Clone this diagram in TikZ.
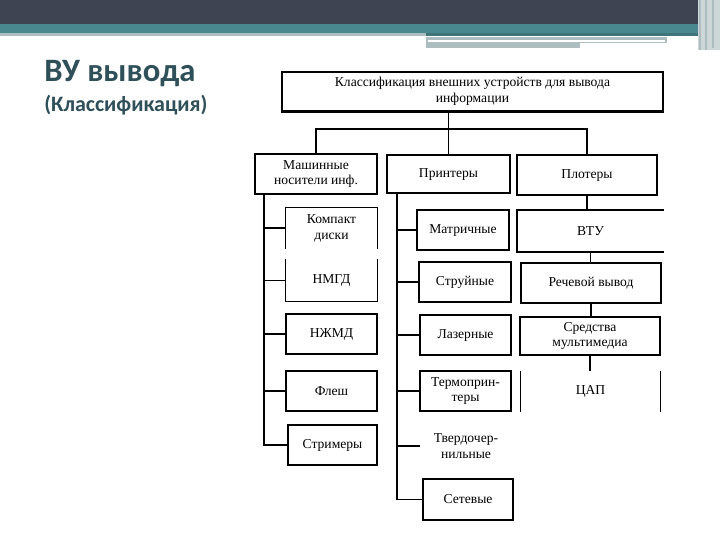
\documentclass[tikz,border=0pt]{standalone}
\usepackage{fontspec}
\setmainfont{Liberation Serif}
\newfontfamily\slidefont{Carlito}

\definecolor{slidedark}{HTML}{3F4452}
\definecolor{slideteal}{HTML}{4A8890}
\definecolor{slidegray}{HTML}{AEBDBF}
\definecolor{titleteal}{HTML}{2F5059}

\tikzset{
  cell/.style={draw, line width=1pt, inner sep=0pt, align=center, font=\fontsize{10.2}{11.8}\selectfont},
  cellopen/.style={cell, draw=none},
  sz/.style 2 args={minimum width=#1*0.75pt, minimum height=#2*0.75pt},
  link/.style={line width=1pt},
  linkthick/.style={line width=1.6pt}
}

\begin{document}
\begin{tikzpicture}[x=0.75pt, y=-0.75pt]
    \useasboundingbox (0,0) rectangle (720,540);
    % slide header
    \fill[white] (0,0) rectangle (720,540);
    \fill[slidedark] (0,0) rectangle (720,24);
    \fill[slideteal] (0,24) rectangle (720,33);
    \fill[slidegray] (0,33) rectangle (426,36);
    \fill[slideteal!85!black] (426,33) rectangle (698,36);
    \fill[slidegray] (426,37) rectangle (667,43);
    \fill[slidegray] (426,43) rectangle (580,48);
    \fill[white] (428,39.5) rectangle (665,41.5);
    \fill[slidegray!60] (698,0) rectangle (720,50);
    \draw[slidegray, line width=1pt] (700,0) -- (700,50) (706,0) -- (706,50) (713,0) -- (713,48);

    % title
    \node[anchor=base west, inner sep=0pt, text=titleteal, font=\slidefont\bfseries\fontsize{24.5}{28}\selectfont] (title) at (44,81) {ВУ вывода};
    \node[anchor=base west, inner sep=0pt, text=titleteal, font=\slidefont\bfseries\fontsize{16.5}{20}\selectfont] (subtitle) at (44,111) {(Классификация)};

    % root and groups
    \node[cell, sz={381}{39}] (root) at (472.5,91.5) {Классификация внешних устройств для вывода\hspace{2em}\\информации\hspace{2em}};
    \draw[line width=1.8pt] (root.south west) -- (root.south east);
    \node[cell, sz={122}{40}, line width=1.4pt] (carriers) at (316,174) {Машинные\\носители инф.};
    \node[cell, sz={123}{38}, line width=1.2pt] (printers) at (448.5,174) {Принтеры};
    \node[cell, sz={140}{40}] (plotters) at (587,175) {Плотеры};
    \coordinate (bar) at (450,129);
    \draw[linkthick] (carriers.north) |- (bar) -| (plotters.north);
    \draw[link] (printers.north |- root.south) -- (printers.north);

    % carriers
    \node[cellopen, sz={91}{40}] (cd) at (331.5,228) {Компакт\\диски};
    \draw[link] (cd.south west) -- (cd.north west) -- (cd.north east) -- (cd.south east);
    \node[cellopen, sz={91}{41}] (nmgd) at (331.5,280.5) {НМГД};
    \draw[link] (nmgd.north west) -- (nmgd.south west) -- (nmgd.south east) -- (nmgd.north east);
    \node[cell, sz={91}{40}] (nzhmd) at (331.5,334) {НЖМД};
    \node[cell, sz={91}{40}, line width=1.5pt] (flash) at (331.5,391) {Флеш};
    \node[cell, sz={89}{40}] (streamer) at (332.5,445) {Стримеры};
    \coordinate (spine1) at (264,194);
    \draw[link] (spine1) |- (streamer.west);
    \foreach \n in {cd,nmgd,nzhmd,flash}
        \draw[link] (spine1 |- \n.west) -- (\n.west);

    % printers
    \node[cell, sz={92}{40}, line width=1.4pt] (dotmatrix) at (463,230) {Матричные};
    \node[cell, sz={92}{40}] (inkjet) at (465,282) {Струйные};
    \node[cell, sz={91}{40}] (laser) at (465.5,335) {Лазерные};
    \node[cell, sz={91}{40}] (thermo) at (465.5,391) {Термоприн-\\теры};
    \node[cellopen, sz={91}{40}] (solidink) at (466,446) {Твердочер-\\нильные};
    \node[cell, sz={90}{41}, line width=1.5pt] (network) at (468,499.5) {Сетевые};
    \coordinate (spine2) at (397,193);
    \draw[link] (spine2) |- (network.west);
    \foreach \n in {dotmatrix,inkjet,laser,thermo,solidink}
        \draw[link] (spine2 |- \n.west) -- (\n.west);

    % plotters
    \node[cellopen, sz={145}{40}] (vtu) at (590.5,231) {ВТУ};
    \draw[line width=1.4pt] (vtu.north east) -- (vtu.north west) -- (vtu.south west) -- (vtu.south east);
    \node[cell, sz={140}{40}] (speech) at (591,283) {Речевой вывод};
    \node[cell, sz={140}{38}] (mmedia) at (590,336) {Средства\\мультимедиа};
    \node[cellopen, sz={139}{39}] (dac) at (590.5,391.5) {ЦАП};
    \draw[link] (dac.north west) -- (dac.south west) (dac.north east) -- (dac.south east);
    \foreach \a/\b in {plotters/vtu, vtu/speech, speech/mmedia, mmedia/dac}
        \draw[link] (\a.south) -- (\a.south |- \b.north);
\end{tikzpicture}
\end{document}
